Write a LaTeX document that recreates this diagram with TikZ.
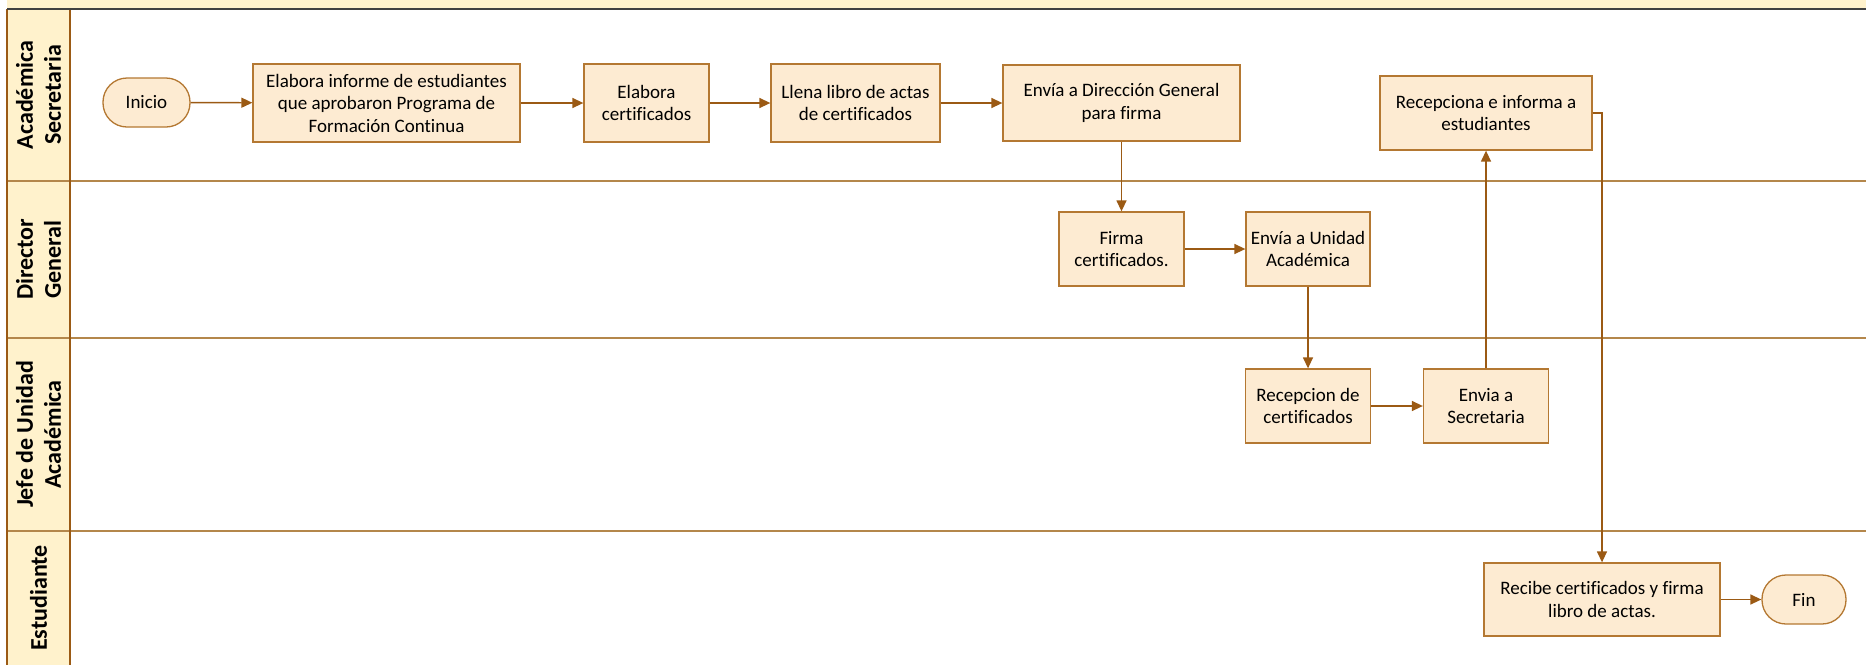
\documentclass[tikz,border=0pt]{standalone}
\usepackage{fontspec}
\setmainfont{Carlito}[Ligatures = NoCommon]
\usetikzlibrary{arrows.meta}
\definecolor{boxfill}{RGB}{253,235,210}
\definecolor{boxline}{RGB}{180,120,50}
\definecolor{flowline}{RGB}{155,90,20}
\definecolor{lanefill}{RGB}{255,242,204}
\definecolor{laneline}{RGB}{180,135,75}
\definecolor{headline}{RGB}{64,64,64}
\begin{document}
\begin{tikzpicture}[x = 1pt, y = -1pt, thick]
        \tikzstyle{task} = [shape = rectangle, draw = boxline, fill = boxfill, align = center, inner sep = 2pt, line width = 1.3pt, font = \fontsize{19}{22.5}\selectfont]
        \tikzstyle{term} = [task, rounded corners = 24pt]
        \tikzstyle{lane} = [rotate = 90, align = center, inner sep = 0pt, font = \fontsize{24}{28}\selectfont\bfseries]
        \tikzstyle{flow} = [draw = flowline, line width = 1.4pt, -{Triangle[length = 11pt, width = 10pt]}]
        \useasboundingbox (0, 0) rectangle (1866, 665);
        % pool frame
        \fill[lanefill] (7, 0) rectangle (1866, 9);
        \fill[lanefill] (7, 9) rectangle (70, 665);
        \draw[laneline, line width = 2pt] (7, 181) -- (1866, 181);
        \draw[laneline, line width = 2pt] (7, 338) -- (1866, 338);
        \draw[laneline, line width = 2pt] (7, 531) -- (1866, 531);
        \draw[flowline, line width = 1.5pt] (7, 9) -- (7, 665);
        \draw[flowline, line width = 1.5pt] (70, 9) -- (70, 665);
        \draw[headline, line width = 2pt] (7, 9) -- (1866, 9);
        \node[lane] (L-1) at (38.5, 95) {Académica\\Secretaria};
        \node[lane] (L-2) at (38.5, 259.5) {Director\\General};
        \node[lane] (L-3) at (38.5, 434.5) {Jefe de Unidad\\Académica};
        \node[lane] (L-4) at (38.5, 598) {Estudiante};
        % tasks
        \node[term, minimum width = 87pt, minimum height = 49pt] (inicio) at (146.5, 102.5) {Inicio};
        \node[task, minimum width = 267pt, minimum height = 78pt] (informe) at (386.5, 103) {Elabora informe de estudiantes\\que aprobaron Programa de\\Formación Continua};
        \node[task, minimum width = 125pt, minimum height = 78pt] (elabora) at (646.5, 103) {Elabora\\certificados};
        \node[task, minimum width = 169pt, minimum height = 78pt] (libro) at (855.5, 103) {Llena libro de actas\\de certificados};
        \node[task, minimum width = 237pt, minimum height = 76pt] (envia-dg) at (1121.5, 103) {Envía a Dirección General\\para firma};
        \node[task, minimum width = 212pt, minimum height = 74pt] (recepciona) at (1486, 113) {Recepciona e informa a\\estudiantes};
        \node[task, minimum width = 125pt, minimum height = 74pt] (firma) at (1121.5, 249) {Firma\\certificados.};
        \node[task, minimum width = 124pt, minimum height = 74pt] (envia-ua) at (1308, 249) {Envía a Unidad\\Académica};
        \node[task, minimum width = 125pt, minimum height = 74pt] (recepcion) at (1308, 406) {Recepcion de\\certificados};
        \node[task, minimum width = 125pt, minimum height = 74pt] (envia-sec) at (1486, 406) {Envia a\\Secretaria};
        \node[task, minimum width = 236pt, minimum height = 73pt] (recibe) at (1602, 599.5) {Recibe certificados y firma\\libro de actas.};
        \node[term, minimum width = 84pt, minimum height = 49pt] (fin) at (1804, 599.5) {Fin};
        % flows
        \draw[flow] (inicio) -- (informe);
        \draw[flow] (informe) -- (elabora);
        \draw[flow] (elabora) -- (libro);
        \draw[flow] (libro) -- (envia-dg);
        \draw[flow] (envia-dg) -- (firma);
        \draw[flow] (firma) -- (envia-ua);
        \draw[flow] (envia-ua) -- (recepcion);
        \draw[flow] (recepcion) -- (envia-sec);
        \draw[flow] (envia-sec) -- (recepciona);
        \draw[flow] (recepciona.east) -| (recibe.north);
        \draw[flow] (recibe) -- (fin);
      \end{tikzpicture}
\end{document}
